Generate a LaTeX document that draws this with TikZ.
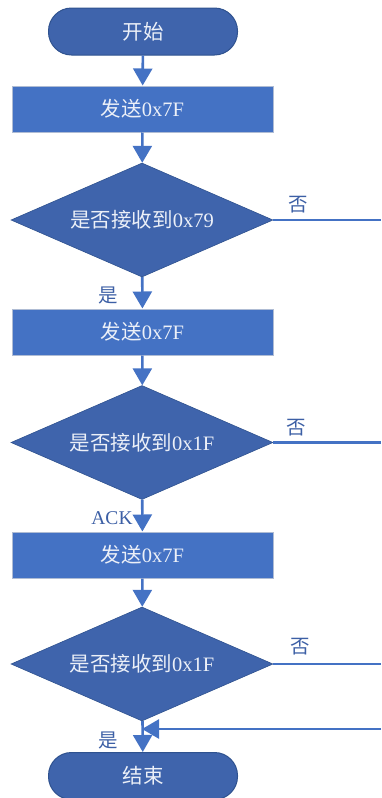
\documentclass[tikz,border=0pt]{standalone}
\usepackage{fontspec}
\setmainfont{Liberation Serif}
\newfontfamily\cjk{Noto Sans CJK SC}
\usetikzlibrary{shapes.geometric,arrows.meta}
\definecolor{termfill}{RGB}{63,100,172}
\definecolor{termedge}{RGB}{47,82,143}
\definecolor{boxfill}{RGB}{68,114,196}
\definecolor{boxedge}{RGB}{175,188,212}
\definecolor{linecol}{RGB}{68,114,196}
\definecolor{labcol}{RGB}{60,95,165}
\definecolor{txtcol}{RGB}{236,240,248}
\begin{document}
\begin{tikzpicture}[x=1pt,y=-1pt,
  every node/.style={font=\fontsize{20.5}{24}\selectfont},
  term/.style={draw=termedge,line width=1pt,fill=termfill,rounded corners=23pt,minimum width=189pt,minimum height=47pt,inner sep=0pt,text=txtcol},
  procbox/.style={draw=boxedge,line width=1pt,fill=boxfill,minimum width=261pt,minimum height=46pt,inner sep=0pt,text=txtcol},
  decide/.style={diamond,aspect=2.3,draw=termedge,line width=0.6pt,fill=termfill,minimum width=262pt,minimum height=114pt,inner sep=0pt,text=txtcol},
  flow/.style={draw=linecol,line width=2.6pt,-{Triangle[width=19pt,length=17pt]}},
  plain/.style={draw=linecol,line width=2.6pt},
  lab/.style={text=labcol,inner sep=0pt,font=\fontsize{19.5}{22}\selectfont}]
\useasboundingbox (0,0) rectangle (381,798);
\node[term] (start) at (143,31.5) {\cjk 开始};
\node[procbox] (b1) at (142.5,109) {{\cjk 发送}0x7F};
\node[decide] (d1) at (142,220) {{\cjk 是否接收到}0x79};
\node[procbox] (b2) at (142.5,332) {{\cjk 发送}0x7F};
\node[decide] (d2) at (142,442.5) {{\cjk 是否接收到}0x1F};
\node[procbox] (b3) at (142.5,555) {{\cjk 发送}0x7F};
\node[decide] (d3) at (142,664) {{\cjk 是否接收到}0x1F};
\node[term] (end) at (143,776) {\cjk 结束};
\coordinate (r1) at (381,220);
\coordinate (r2) at (381,442.5);
\coordinate (r3) at (381,664);
\coordinate (r4) at (381,729);
\draw[flow] (start) -- (b1);
\draw[flow] (b1) -- (d1);
\draw[flow] (d1) -- (b2);
\draw[flow] (b2) -- (d2);
\draw[flow] (d2) -- (b3);
\draw[flow] (b3) -- (d3);
\draw[flow] (d3) -- (end);
\draw[plain] (d1.east) -- (r1);
\draw[plain] (d2.east) -- (r2);
\draw[plain] (d3.east) -- (r3);
\draw[flow] (r4) -- (d3.south |- r4);
\node[lab] (n1) at (298,205) {\cjk 否};
\node[lab] (n2) at (296,428) {\cjk 否};
\node[lab] (n3) at (300,647) {\cjk 否};
\node[lab] (y1) at (108,295) {\cjk 是};
\node[lab] (y2) at (112,518) {ACK};
\node[lab] (y3) at (108,740) {\cjk 是};
\end{tikzpicture}
\end{document}
